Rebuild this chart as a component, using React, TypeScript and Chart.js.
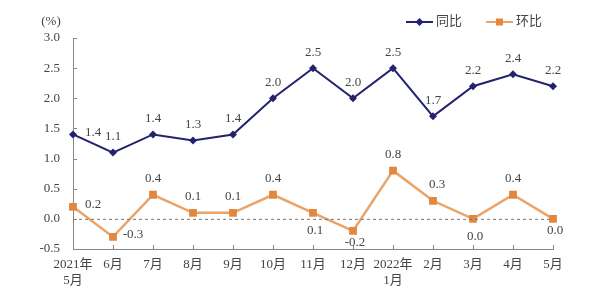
import React, { useEffect, useRef } from "react";
import { Chart, registerables } from "chart.js";

Chart.register(...registerables);

const categories: (string | string[])[] = [
  ["2021年", "5月"], "6月", "7月", "8月", "9月", "10月", "11月", "12月",
  ["2022年", "1月"], "2月", "3月", "4月", "5月",
];
const yoyValues = [1.4, 1.1, 1.4, 1.3, 1.4, 2.0, 2.5, 2.0, 2.5, 1.7, 2.2, 2.4, 2.2];
const momValues = [0.2, -0.3, 0.4, 0.1, 0.1, 0.4, 0.1, -0.2, 0.8, 0.3, 0.0, 0.4, 0.0];
const seriesNames = ["同比", "环比"];
const yMin = -0.5;
const yMax = 3.0;
const yStep = 0.5;
const unitLabel = "(%)";

const NAVY = "#22226e";
const ORANGE = "#e4873d";
const ORANGE_LINE = "#eaa46a";
const TEXT = "#444";
const FONT = "'Liberation Serif', 'Noto Sans CJK SC', serif";

type Place = "above" | "below" | "right" | "belowTight" | "aboveRight";
const yoyPlace: Place[] = ["right", "above", "above", "above", "above", "above", "above", "above", "above", "above", "above", "above", "above"];
const momPlace: Place[] = ["right", "right", "above", "above", "above", "above", "below", "belowTight", "above", "aboveRight", "below", "above", "belowTight"];

function offsetFor(p: Place): [number, number] {
  switch (p) {
    case "above": return [0, -16];
    case "below": return [2, 18];
    case "belowTight": return [2, 12];
    case "right": return [20, -2];
    case "aboveRight": return [4, -16];
  }
}

const decorPlugin = {
  id: "decor",
  afterDraw(chart: any) {
    const { ctx, chartArea } = chart;
    const xs = chart.scales.x;
    const ys = chart.scales.y;
    ctx.save();
    // zero dashed line
    const y0 = ys.getPixelForValue(0);
    ctx.strokeStyle = "#777";
    ctx.lineWidth = 1;
    ctx.setLineDash([3, 3]);
    ctx.beginPath();
    ctx.moveTo(chartArea.left, y0 + 0.5);
    ctx.lineTo(chartArea.right, y0 + 0.5);
    ctx.stroke();
    ctx.setLineDash([]);
    // inward ticks
    ctx.strokeStyle = "#888";
    ys.ticks.forEach((t: any) => {
      const y = Math.round(ys.getPixelForValue(t.value)) + 0.5;
      ctx.beginPath();
      ctx.moveTo(chartArea.left, y);
      ctx.lineTo(chartArea.left + 4, y);
      ctx.stroke();
    });
    categories.forEach((_, i) => {
      const x = Math.round(xs.getPixelForValue(i)) + 0.5;
      ctx.beginPath();
      ctx.moveTo(x, chartArea.bottom);
      ctx.lineTo(x, chartArea.bottom - 4);
      ctx.stroke();
    });
    // unit label
    ctx.fillStyle = TEXT;
    ctx.font = `13px ${FONT}`;
    ctx.textAlign = "center";
    ctx.textBaseline = "middle";
    ctx.fillText(unitLabel, 51, 22);
    // data labels
    const drawLabels = (dsIndex: number, vals: number[], places: Place[]) => {
      const meta = chart.getDatasetMeta(dsIndex);
      meta.data.forEach((pt: any, i: number) => {
        const [dx, dy] = offsetFor(places[i]);
        ctx.fillText(vals[i].toFixed(1), pt.x + dx, pt.y + dy);
      });
    };
    drawLabels(0, yoyValues, yoyPlace);
    drawLabels(1, momValues, momPlace);
    // legend
    const legendY = 22;
    const items = [
      { x: 406, color: NAVY, line: NAVY, style: "diamond", name: seriesNames[0] },
      { x: 486, color: ORANGE, line: ORANGE_LINE, style: "square", name: seriesNames[1] },
    ];
    items.forEach((it) => {
      ctx.strokeStyle = it.line;
      ctx.lineWidth = 2;
      ctx.beginPath();
      ctx.moveTo(it.x, legendY);
      ctx.lineTo(it.x + 27, legendY);
      ctx.stroke();
      ctx.fillStyle = it.color;
      const cx = it.x + 13.5;
      ctx.beginPath();
      if (it.style === "diamond") {
        ctx.moveTo(cx, legendY - 4);
        ctx.lineTo(cx + 4, legendY);
        ctx.lineTo(cx, legendY + 4);
        ctx.lineTo(cx - 4, legendY);
        ctx.closePath();
      } else {
        ctx.rect(cx - 3.5, legendY - 3.5, 7, 7);
      }
      ctx.fill();
      ctx.fillStyle = TEXT;
      ctx.textAlign = "left";
      ctx.fillText(it.name, it.x + 30, legendY);
    });
    ctx.restore();
  },
};

export default function App() {
  const ref = useRef<HTMLCanvasElement>(null);
  useEffect(() => {
    if (!ref.current) return;
    const chart = new Chart(ref.current, {
      type: "line",
      data: {
        labels: categories as any,
        datasets: [
          {
            label: seriesNames[0],
            data: yoyValues,
            borderColor: NAVY,
            backgroundColor: NAVY,
            borderWidth: 2,
            pointStyle: "rectRot",
            pointRadius: 4,
            pointBorderWidth: 0,
            pointBackgroundColor: NAVY,
            tension: 0,
          },
          {
            label: seriesNames[1],
            data: momValues,
            borderColor: ORANGE_LINE,
            backgroundColor: ORANGE,
            borderWidth: 2.5,
            pointStyle: "rect",
            pointRadius: 5.5,
            pointBorderWidth: 0,
            pointBackgroundColor: ORANGE,
            tension: 0,
          },
        ],
      },
      options: {
        animation: false,
        responsive: true,
        maintainAspectRatio: false,
        layout: { padding: { left: 0, right: 49, top: 38, bottom: 0 } },
        plugins: { legend: { display: false }, tooltip: { enabled: false } },
        scales: {
          x: {
            type: "category",
            offset: false,
            grid: { display: false, drawTicks: false },
            border: { display: true, color: "#888", width: 1 },
            ticks: {
              color: TEXT,
              font: { family: FONT, size: 13 },
              padding: 8,
              maxRotation: 0,
              autoSkip: false,
            },
            afterFit: (s: any) => { s.height = 51; },
          },
          y: {
            min: yMin,
            max: yMax,
            grid: { display: false, drawTicks: false },
            border: { display: true, color: "#888", width: 1 },
            ticks: {
              stepSize: yStep,
              color: TEXT,
              font: { family: FONT, size: 13 },
              padding: 13,
              callback: (v: any) => Number(v).toFixed(1),
            },
            afterFit: (s: any) => { s.width = 73; },
          },
        },
      },
      plugins: [decorPlugin],
    });
    return () => chart.destroy();
  }, []);
  return (
    <div style={{ position: "fixed", left: 0, top: 0, width: 602, height: 300, background: "#fff" }}>
      <canvas ref={ref} />
    </div>
  );
}
